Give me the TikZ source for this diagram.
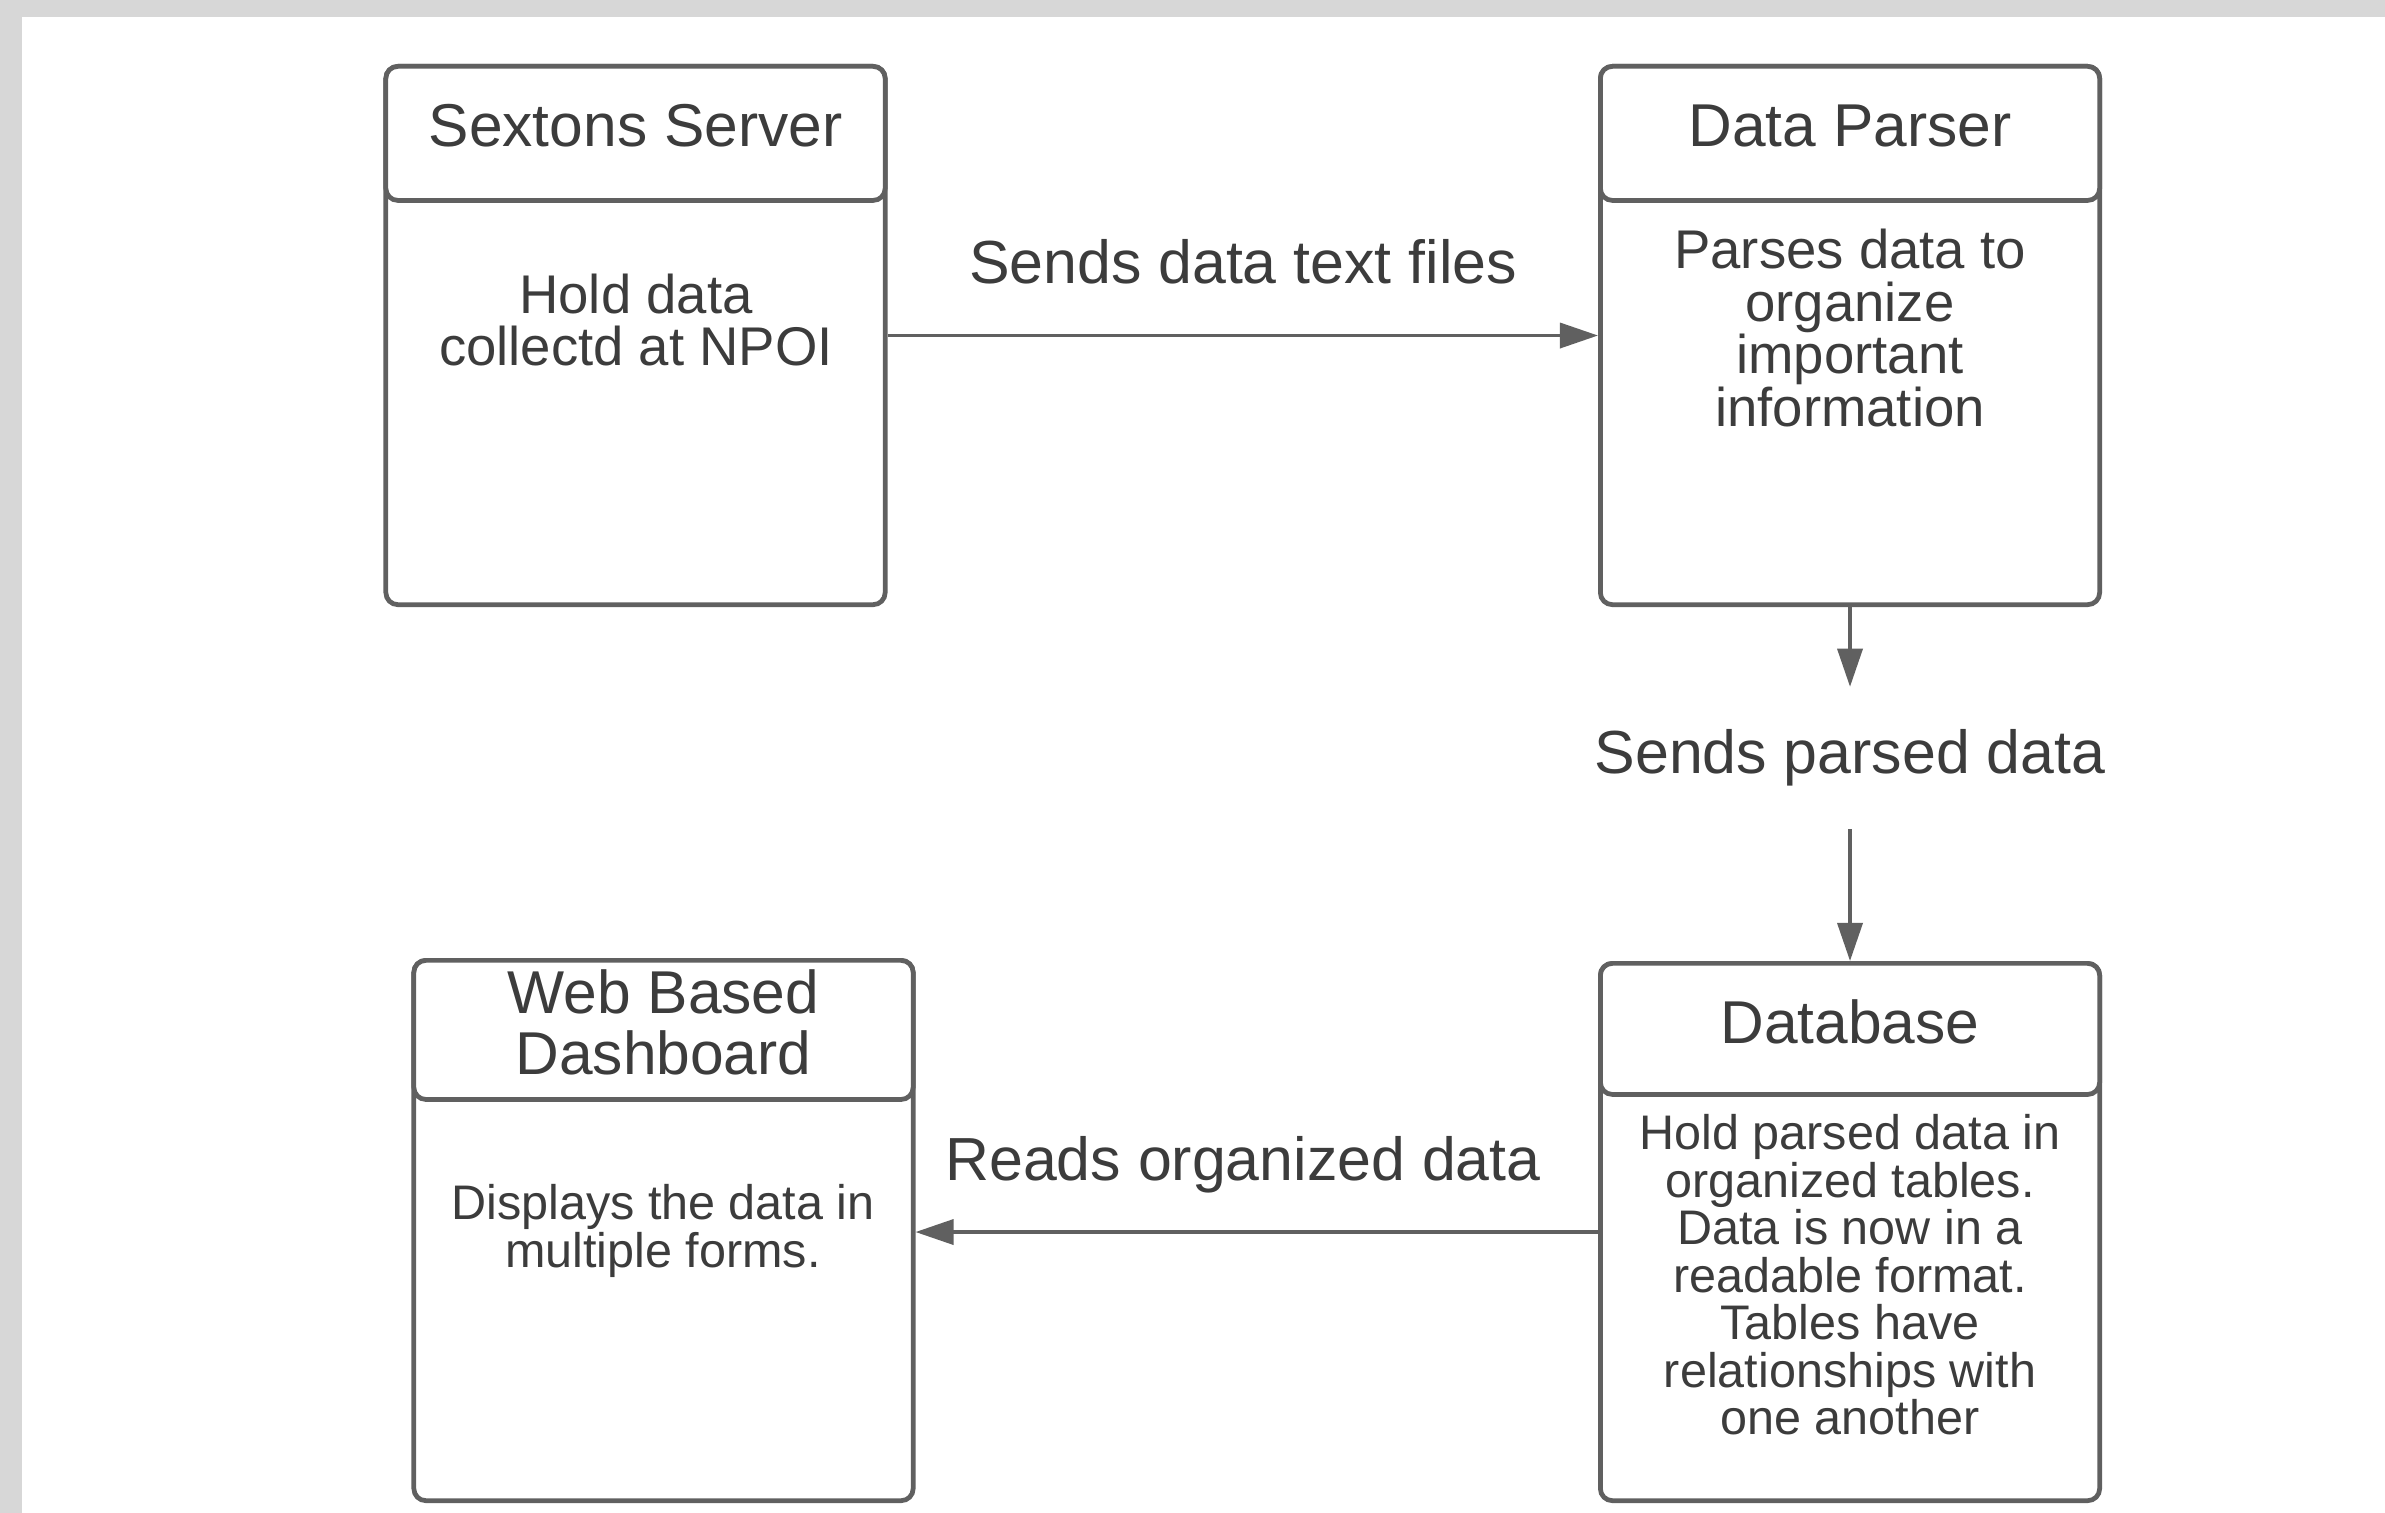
\documentclass[tikz,border=0pt]{standalone}
\usepackage{fontspec}
\setmainfont{Liberation Sans}
\usetikzlibrary{arrows.meta}
\definecolor{linegray}{HTML}{606060}
\definecolor{textgray}{HTML}{3C3C3C}
\definecolor{bggray}{HTML}{D7D7D7}

\begin{document}
\begin{tikzpicture}[x=0.01cm,y=-0.01cm]
    \tikzstyle{boxframe}=[draw=linegray,line width=1.35pt,rounded corners=0.12cm,inner sep=0,fill=white]
    \tikzstyle{boxtitle}=[text=textgray,align=center,inner sep=0,font=\fontsize{17.2}{17.2}\selectfont]
    \tikzstyle{boxtext}=[text=textgray,align=center,inner sep=0]
    \tikzstyle{flowline}=[draw=linegray,line width=1pt,-{Triangle[length=0.38cm,width=0.25cm]}]
    \tikzstyle{flowlabel}=[text=textgray,inner sep=0,font=\fontsize{17.3}{17.3}\selectfont]
    \newcommand{\flowbox}[6]{
        \path (#2,#3) node[boxframe,anchor=north,minimum width=4.99cm,minimum height=#6] (#1) {};
        \path (#1.north) node[boxframe,anchor=north,minimum width=4.99cm,minimum height=#4] (#1head) {};
        \path (#1head.center) node[boxtitle,yshift=0.075cm] (#1title) {#5};
    }
    \useasboundingbox (0,0) rectangle (2385,1513);
    \path[fill=bggray] (0,0) rectangle (2385,1513);
    \path[fill=white] (22,17) rectangle (2385,1513);
    \flowbox{srv}{635.5}{64}{1.34cm}{Sextons Server}{5.38cm}
    \flowbox{prs}{1850}{64}{1.34cm}{Data Parser}{5.38cm}
    \flowbox{dash}{663.5}{958}{1.39cm}{Web Based\\Dashboard}{5.40cm}
    \flowbox{db}{1850}{961}{1.31cm}{Database}{5.37cm}
    \path (636,320) node[boxtext,font=\fontsize{15.5}{15}\selectfont] (srvtext) {Hold data\\collectd at NPOI};
    \path (1850,328) node[boxtext,font=\fontsize{15.5}{15}\selectfont] (prstext) {Parses data to\\organize\\important\\information};
    \path (663,1231) node[boxtext,font=\fontsize{13.8}{13.4}\selectfont] (dashtext) {Displays the data in\\multiple forms.};
    \path (1850,1275) node[boxtext,font=\fontsize{13.8}{13.5}\selectfont] (dbtext) {Hold parsed data in\\organized tables.\\Data is now in a\\readable format.\\Tables have\\relationships with\\one another};
    \path (1243,262) node[flowlabel] (sendtxt) {Sends data text files};
    \path (1850,758) node[flowlabel,minimum height=1.41cm] (sendprs) {Sends parsed data};
    \path (1243,1165) node[flowlabel] (readorg) {Reads organized data};
    \draw[flowline] (srv) -- (prs);
    \draw[flowline] (prs) -- (sendprs);
    \draw[flowline] (sendprs) -- (db);
    \draw[flowline] (db.west) -- (dash.east |- db.west);
\end{tikzpicture}
\end{document}
